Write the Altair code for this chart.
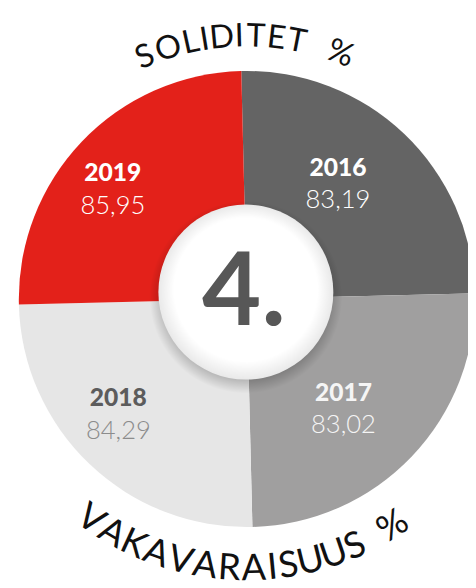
import math
import altair as alt
import pandas as pd

# ---------------- data ----------------
years = ["2016", "2017", "2018", "2019"]
solidity = ["83,19", "83,02", "84,29", "85,95"]
share = [1, 1, 1, 1]          # the four slices are equal quarters
center_label = "4."
top_title = "SOLIDITET %"
bottom_title = "VAKAVARAISUUS %"

# ---------------- styles ----------------
slice_colors = ["#646464", "#A09F9F", "#E6E6E6", "#E3211A"]
year_text_colors = ["#FFFFFF", "#F5F5F5", "#5C5C5C", "#FFFFFF"]
value_text_colors = ["#FFFFFF", "#F5F5F5", "#8C8C8C", "#FFFFFF"]

W, H = 468, 580
CX, CY = 243, 291          # pie centre (plot coords)
R = 232                    # pie radius
ROT = math.radians(-1.4)   # slight rotation of the whole graphic
TWO_PI = 2 * math.pi

df = pd.DataFrame({"year": years, "value": solidity, "share": share})
theta_scale = alt.Scale(domain=[0, sum(share)], range=[ROT, ROT + TWO_PI])

pie = alt.Chart(df).mark_arc(radius=R, stroke=None).encode(
    theta=alt.Theta("share:Q", stack=True, scale=theta_scale),
    order=alt.Order("year:N", sort="ascending"),
    color=alt.Color("year:N", scale=alt.Scale(domain=years, range=slice_colors), legend=None),
    x=alt.value(CX),
    y=alt.value(CY),
)

LX = CX - 19
year_txt = alt.Chart(df).mark_text(
    radius=162, dy=-16, font="Lato", fontSize=25, fontWeight=900, align="center", baseline="middle"
).encode(
    theta=alt.Theta("share:Q", stack=True, scale=theta_scale),
    order=alt.Order("year:N", sort="ascending"),
    text="year:N",
    color=alt.Color("year:N", scale=alt.Scale(domain=years, range=year_text_colors), legend=None),
    x=alt.value(LX),
    y=alt.value(CY),
)

value_txt = alt.Chart(df).mark_text(
    radius=162, dy=17, font="Lato", fontSize=26, fontWeight=300, align="center", baseline="middle"
).encode(
    theta=alt.Theta("share:Q", stack=True, scale=theta_scale),
    order=alt.Order("year:N", sort="ascending"),
    text="value:N",
    color=alt.Color("year:N", scale=alt.Scale(domain=years, range=value_text_colors), legend=None),
    x=alt.value(LX),
    y=alt.value(CY),
)

# ---------------- centre disc ----------------
one = pd.DataFrame({"k": [0]})
DX, DY, DR = 242, 284, 89

shadow = alt.Chart(one).mark_arc(
    radius=DR + 9,
    fill={
        "gradient": "radial",
        "x1": 0.5, "y1": 0.5, "r1": 0,
        "x2": 0.5, "y2": 0.5, "r2": 0.5,
        "stops": [
            {"offset": 0.0, "color": "rgba(0,0,0,0.25)"},
            {"offset": 0.86, "color": "rgba(0,0,0,0.2)"},
            {"offset": 1.0, "color": "rgba(0,0,0,0)"},
        ],
    },
).encode(x=alt.value(DX), y=alt.value(DY + 5), theta=alt.value(0), theta2=alt.value(TWO_PI))

disc = alt.Chart(one).mark_arc(
    radius=DR,
    fill={
        "gradient": "radial",
        "x1": 0.5, "y1": 0.42, "r1": 0,
        "x2": 0.5, "y2": 0.5, "r2": 0.5,
        "stops": [
            {"offset": 0.0, "color": "#FFFFFF"},
            {"offset": 0.82, "color": "#FFFFFF"},
            {"offset": 1.0, "color": "#E9E9E9"},
        ],
    },
).encode(x=alt.value(DX), y=alt.value(DY), theta=alt.value(0), theta2=alt.value(TWO_PI))

center_txt = alt.Chart(pd.DataFrame({"t": [center_label]})).mark_text(
    font="Lato", fontSize=104, fontWeight="bold", color="#575757", align="center", baseline="alphabetic"
).encode(text="t:N", x=alt.value(240), y=alt.value(317))

# ---------------- curved titles ----------------
widths = {"S": .5, "O": .8, "L": .4, "I": .25, "D": .6, "T": .55, "E": .5, "%": .8,
          "V": .6, "A": .65, "K": .55, "R": .55, "U": .6}


def arc_chars(text, fs, track, r, center_deg, bottom, space_w):
    w = [(space_w if c == " " else widths[c]) * fs for c in text]
    pos, acc = [], 0.0
    for i, wi in enumerate(w):
        if i > 0:
            acc += (w[i - 1] + wi) / 2 + track
        pos.append(acc)
    mid = (pos[0] + pos[-1]) / 2
    rows = []
    for c, p in zip(text, pos):
        off = math.degrees((p - mid) / r) + center_deg
        if bottom:
            th, ang = 180 - off, -off
        else:
            th, ang = off, off
        rows.append({"ch": c, "theta": math.radians(th), "angle": ang % 360})
    return pd.DataFrame(rows)


top_df = arc_chars(top_title, 33, 3.7, 267, -0.95, False, 0.5)
bot_df = arc_chars(bottom_title, 37, 2.6, 275, -1.25, True, 0.4)

top_txt = alt.Chart(top_df).mark_text(
    radius=267, font="Lato", fontSize=33, color="#111111", align="center", baseline="middle"
).encode(
    theta=alt.Theta("theta:Q", scale=None, stack=False),
    angle=alt.Angle("angle:Q", scale=None),
    text="ch:N",
    x=alt.value(CX), y=alt.value(CY),
)

bot_txt = alt.Chart(bot_df).mark_text(
    radius=275, font="Lato", fontSize=37, color="#111111", align="center", baseline="middle"
).encode(
    theta=alt.Theta("theta:Q", scale=None, stack=False),
    angle=alt.Angle("angle:Q", scale=None),
    text="ch:N",
    x=alt.value(CX), y=alt.value(CY),
)

chart = alt.layer(
    pie, year_txt, value_txt, shadow, disc, center_txt, top_txt, bot_txt
).resolve_scale(color="independent").properties(
    width=W, height=H, padding=0, autosize=alt.AutoSizeParams(type="none")
).configure_view(stroke=None)

chart.save("out.html", embed_options={"renderer": "svg", "actions": False})
